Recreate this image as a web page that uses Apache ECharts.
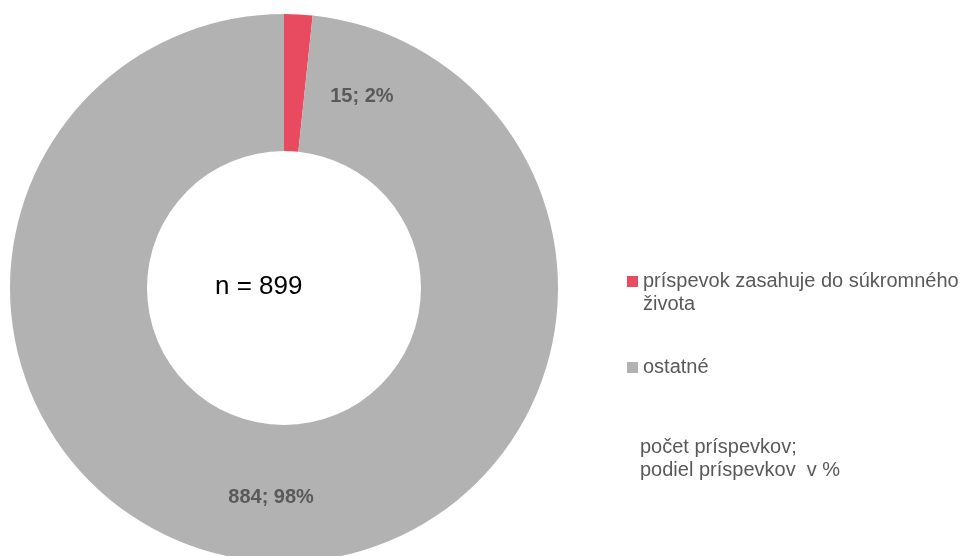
<!DOCTYPE html>
<html><head><meta charset="utf-8">
<script src="https://cdn.jsdelivr.net/npm/echarts@6/dist/echarts.min.js"></script>
<style>html,body{margin:0;padding:0;background:#fff}#c{width:971px;height:556px}</style>
</head><body><div id="c"></div>
<script>
const categories = ['príspevok zasahuje do súkromného\nživota', 'ostatné'];
const values = [15, 884];
const percents = [2, 98];
const colors = ['#E84A5F', '#B2B2B2'];
const total = 899;

const chart = echarts.init(document.getElementById('c'));
const font = '"Liberation Sans", Arial, sans-serif';
chart.setOption({
  animation: false,
  legend: {
    orient: 'vertical', left: 622, top: 242,
    itemWidth: 11, itemHeight: 11, itemGap: 40,
    icon: 'rect',
    textStyle: { fontFamily: font, fontSize: 20, color: '#595959', lineHeight: 23 },
    formatter: name => name.indexOf('\n') >= 0 ? '\n' + name : name,
    data: categories
  },
  graphic: [
    { type: 'text', x: 215, y: 287, style: { text: 'n = ' + total, font: '26px ' + font, fill: '#000', verticalAlign: 'middle' } },
    { type: 'text', x: 640, y: 436, style: { text: 'počet príspevkov;\npodiel príspevkov  v %', font: '20px ' + font, fill: '#595959', lineHeight: 23 } }
  ],
  series: [{
    type: 'pie',
    center: [284, 288],
    radius: [137, 274],
    startAngle: 90,
    clockwise: true,
    avoidLabelOverlap: false,
    label: {
      show: true, position: 'inside',
      fontFamily: font, fontSize: 20, fontWeight: 'bold', color: '#595959',
      formatter: p => values[p.dataIndex] + '; ' + percents[p.dataIndex] + '%'
    },
    labelLine: { show: false },
    emphasis: { disabled: true },
    data: categories.map((c, i) => ({
      name: c, value: values[i],
      itemStyle: { color: colors[i] },
      label: i === 0 ? { offset: [67, 17] } : { offset: [-2, 1] }
    }))
  }]
});
</script></body></html>
